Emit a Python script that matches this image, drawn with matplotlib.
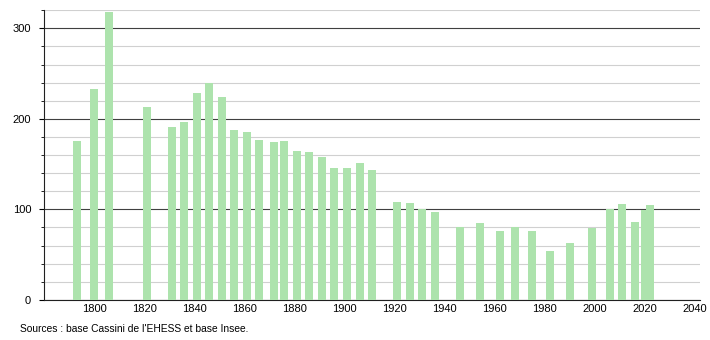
from matplotlib import pyplot as plt
from matplotlib.ticker import MultipleLocator

plt.rcParams['font.family'] = ['Liberation Sans', 'DejaVu Sans']

# recensements
years = [1793, 1800, 1806, 1821, 1831, 1836, 1841, 1846, 1851, 1856,
         1861, 1866, 1872, 1876, 1881, 1886, 1891, 1896, 1901, 1906,
         1911, 1921, 1926, 1931, 1936, 1946, 1954, 1962, 1968, 1975,
         1982, 1990, 1999, 2006, 2011, 2016, 2020, 2022]
population = [175, 233, 318, 213, 191, 197, 229, 240, 224, 188,
              186, 177, 174, 175, 165, 163, 158, 146, 146, 151,
              144, 108, 107, 100, 97, 80, 85, 76, 80, 76,
              54, 63, 79, 100, 106, 86, 99, 105]
source = "Sources : base Cassini de l'EHESS et base Insee."

fig = plt.figure(figsize=(7.1, 3.4), dpi=100)
ax = fig.add_axes([0.062, 0.118, 0.924, 0.852])

ax.set_xlim(1780, 2042)
ax.set_ylim(0, 320)

ax.yaxis.set_major_locator(MultipleLocator(100))
ax.yaxis.set_minor_locator(MultipleLocator(20))
ax.set_xticks(range(1800, 2041, 20))

ax.grid(which='minor', axis='y', color='#d0d0d0', linewidth=0.8)
ax.grid(which='major', axis='y', color='#404040', linewidth=0.8)
ax.set_axisbelow(True)

ax.bar(years, population, width=3.2, color='#ade3ad', zorder=3)

for s in ('top', 'right'):
    ax.spines[s].set_visible(False)
ax.spines['left'].set_color('#202020')
ax.spines['bottom'].set_color('#202020')
ax.tick_params(axis='y', which='major', length=3.8, width=0.8, labelsize=8, pad=5.5)
ax.tick_params(axis='y', which='minor', length=2, width=0.6)
ax.tick_params(axis='x', length=0, labelsize=8, pad=3)

fig.text(0.028, 0.033, source, fontsize=7.4, ha='left', va='center')

plt.savefig('out.png', dpi=100)
